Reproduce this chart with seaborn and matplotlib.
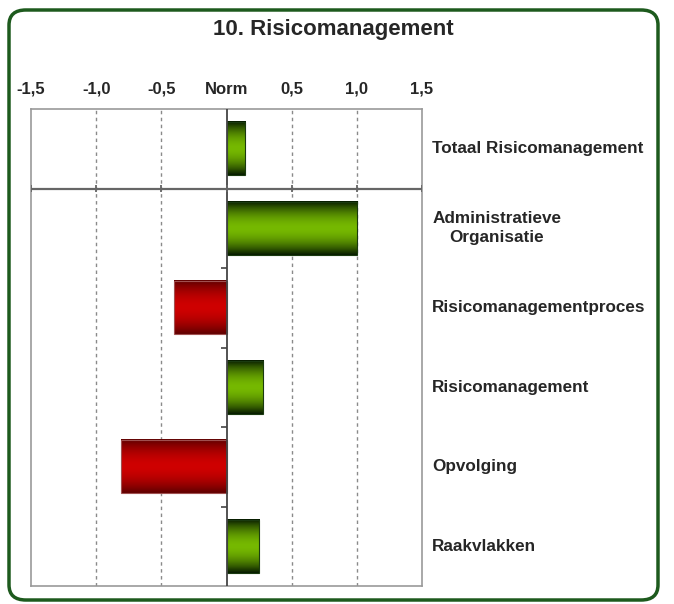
import numpy as np
import pandas as pd
import matplotlib
matplotlib.use('Agg')
import matplotlib.pyplot as plt
from matplotlib.patches import FancyBboxPatch
import matplotlib.transforms as mtransforms
import seaborn as sns

# chart data
categories = ['Totaal Risicomanagement', 'Administratieve\nOrganisatie',
              'Risicomanagementproces', 'Risicomanagement', 'Opvolging', 'Raakvlakken']
scores = [0.14, 1.00, -0.40, 0.28, -0.81, 0.25]
tick_values = [-1.5, -1.0, -0.5, 0.0, 0.5, 1.0, 1.5]
tick_labels = ['-1,5', '-1,0', '-0,5', 'Norm', '0,5', '1,0', '1,5']
title = '10. Risicomanagement'

GREEN_EDGE, GREEN_MID = '#071c00', '#76b900'
RED_EDGE, RED_MID = '#600000', '#cf0000'


def gradient(edge, mid, n=64):
    """Vertical gradient: dark at top/bottom, bright in the middle."""
    e = np.array(matplotlib.colors.to_rgb(edge))
    m = np.array(matplotlib.colors.to_rgb(mid))
    t = np.abs(np.linspace(-1, 1, n)) ** 1.8
    return (m[None, :] * (1 - t[:, None]) + e[None, :] * t[:, None])[:, None, :]


sns.set_style('white')
plt.rcParams['font.family'] = ['Liberation Sans', 'DejaVu Sans']
plt.rcParams['font.weight'] = 'bold'

df = pd.DataFrame({'category': categories, 'score': scores})
df['sign'] = np.where(df['score'] < 0, 'neg', 'pos')

W, H = 674, 604
fig = plt.figure(figsize=(W / 100, H / 100), dpi=100)
ax = fig.add_axes([31 / W, 1 - 586 / H, (422 - 31) / W, (586 - 109) / H])

sns.barplot(data=df, x='score', y='category', hue='sign', orient='h',
            palette={'pos': GREEN_MID, 'neg': RED_MID}, width=0.67,
            legend=False, ax=ax)

# replace flat fills with gradients
for patch in list(ax.patches):
    x0, y0 = patch.get_x(), patch.get_y()
    w, h = patch.get_width(), patch.get_height()
    if w == 0:
        continue
    neg = w < 0
    img = gradient(RED_EDGE, RED_MID) if neg else gradient(GREEN_EDGE, GREEN_MID)
    ax.imshow(img, extent=(x0, x0 + w, y0 + h, y0), aspect='auto', zorder=2,
              interpolation='bilinear')
    patch.set_facecolor('none')
    patch.set_edgecolor('#a05050' if neg else '#1a3a10')
    patch.set_linewidth(0.8)
    patch.set_zorder(3)

n = len(categories)
ax.set_xlim(-1.5, 1.5)
ax.set_ylim(n - 0.5, -0.5)

# x axis on top with "Norm" at zero
ax.xaxis.tick_top()
ax.set_xticks(tick_values)
ax.set_xticklabels(tick_labels, fontsize=12, fontweight='bold')
ax.tick_params(axis='x', length=0, pad=9)
ax.set_xlabel('')
ax.set_ylabel('')
ax.set_yticks([])

# dashed grid, solid zero line
for v in tick_values[1:-1]:
    if v == 0:
        continue
    ax.axvline(v, color='#8a8a8a', lw=1, ls=(0, (2.5, 2.5)), zorder=1)
ax.axvline(0, color='#444444', lw=1.3, zorder=4)

# separator between total and sub-items, with ticks
ax.axhline(0.5, color='#666666', lw=1.6, zorder=4)
ax.vlines(tick_values, 0.45, 0.55, color='#666666', lw=1.3, zorder=4)
# small ticks on the zero line at row boundaries
ax.hlines(np.arange(1.5, n - 0.5, 1.0), -0.045, 0, color='#444444', lw=1.2, zorder=4)

for s in ax.spines.values():
    s.set_color('#999999')
    s.set_linewidth(1.2)

# category labels on the right
trans = mtransforms.blended_transform_factory(ax.transAxes, ax.transData)
for i, c in enumerate(categories):
    ax.text(1.026, i, c, transform=trans, ha='left', va='center',
            multialignment='center', fontsize=12.3, fontweight='bold',
            linespacing=1.35)

fig.text(333 / W, 1 - 29 / H, title, ha='center', va='center',
         fontsize=16, fontweight='bold')

# rounded green frame
frame = FancyBboxPatch((9 / W, 1 - 600 / H), (658 - 9) / W, (600 - 10) / H,
                       boxstyle='round,pad=0,rounding_size=0.025',
                       transform=fig.transFigure, fill=False,
                       edgecolor='#1d5a1d', linewidth=2.5, zorder=10)
fig.patches.append(frame)

fig.savefig('out.png', dpi=100)
